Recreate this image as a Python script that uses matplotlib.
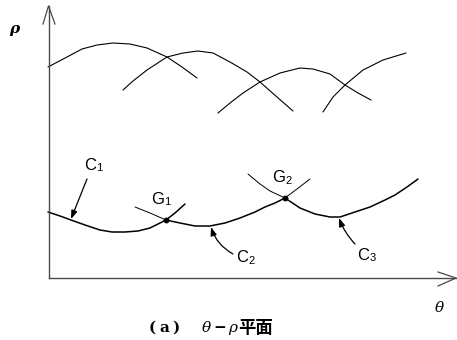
import numpy as np
from matplotlib import pyplot as plt

# curve points in picture units (x right, y down)
curve_a = [(48, 67), (67, 57), (82, 49), (97, 45), (113, 43), (130, 44), (147, 48),
           (167, 57), (182, 67), (197, 78)]
curve_b = [(123, 90), (133, 81), (147, 70), (167, 57), (183, 53), (198, 51), (213, 53),
           (230, 62), (247, 72), (260, 82), (277, 97), (293, 111)]
curve_c = [(218, 113), (230, 103), (243, 93), (260, 82), (280, 73), (300, 68), (313, 69),
           (330, 74), (345, 85), (358, 93), (371, 100)]
curve_d = [(323, 112), (333, 97), (345, 85), (363, 70), (383, 60), (406, 53)]

# lower envelope pieces (thick) and crossing stubs (thin)
c1_main = [(48, 212), (60, 216), (71, 220), (85, 225), (100, 230), (112, 232), (125, 232),
           (138, 231), (150, 228), (158, 224), (166, 220), (175, 213), (185, 204)]
c2_in = [(135, 207), (150, 213), (166, 220)]
c2_main = [(166, 220), (180, 223), (195, 226), (210, 226), (225, 223), (240, 218),
           (255, 212), (265, 207), (275, 203), (285, 198)]
c2_out = [(285, 198), (297, 189), (310, 179)]
c3_in = [(248, 174), (260, 184), (270, 191), (285, 198)]
c3_main = [(285, 198), (300, 208), (315, 214), (330, 217), (340, 217), (355, 212),
           (370, 207), (385, 200), (395, 195), (407, 187), (418, 179)]

g_pts = [(166, 220), (285, 198)]

fig = plt.figure(figsize=(4.57, 3.4), dpi=100)
ax = fig.add_axes([0, 0, 1, 1])
ax.set_xlim(0, 457)
ax.set_ylim(340, 0)
ax.axis('off')

def draw(pts, lw):
    p = np.array(pts)
    ax.plot(p[:, 0], p[:, 1], color='black', lw=lw, solid_capstyle='round',
            solid_joinstyle='round')

for c in (curve_a, curve_b, curve_c, curve_d):
    draw(c, 0.8)
draw(c1_main, 1.1)
draw(c2_main, 1.1)
draw(c3_main, 1.1)
for c in (c2_in, c2_out, c3_in):
    draw(c, 0.7)

for x, y in g_pts:
    ax.plot(x, y, 'o', color='black', ms=3.2)

# axes with open arrow heads
ax_col = '#4a4a4a'
ax.plot([48.5, 48.5], [278, 6], color=ax_col, lw=1.0)
ax.plot([43, 48.5, 55], [24, 6, 24], color=ax_col, lw=0.9)
ax.plot([48.5, 456], [278, 278], color=ax_col, lw=1.0)
ax.plot([438, 456, 438], [272, 278, 286], color=ax_col, lw=0.9)

ax.text(14, 29, 'ρ', fontsize=11, style='italic', fontweight='bold',
        family='DejaVu Serif', ha='center', va='center')
ax.text(439, 308, 'θ', fontsize=11, style='italic', family='DejaVu Serif',
        ha='center', va='center')

def label(x, y, letter, sub):
    ax.text(x, y, letter, fontsize=12, family='Liberation Sans', ha='right', va='center')
    ax.text(x + 0.5, y + 3, sub, fontsize=8, family='Liberation Sans',
            ha='left', va='center')

label(96, 165, 'C', '1')
label(248, 258, 'C', '2')
label(369, 255, 'C', '3')
label(164, 199, 'G', '1')
label(285, 178, 'G', '2')

arrow = dict(arrowstyle='-|>,head_length=0.5,head_width=0.18', color='black', lw=0.9,
             shrinkA=0, shrinkB=0)
ax.annotate('', xy=(71, 219), xytext=(87, 179), arrowprops=arrow)
ax.annotate('', xy=(211, 227), xytext=(233, 254),
            arrowprops=dict(arrow, connectionstyle='arc3,rad=-0.2'))
ax.annotate('', xy=(339, 218), xytext=(355, 244),
            arrowprops=dict(arrow, connectionstyle='arc3,rad=-0.1'))

# caption, set piece by piece
cap_y = 328
for x, s in [(152, '('), (164, 'a'), (176, ')')]:
    ax.text(x, cap_y, s, fontsize=11, fontweight='bold', family='DejaVu Serif',
            ha='center', va='center')
ax.text(206, cap_y, 'θ', fontsize=11, style='italic', family='DejaVu Serif',
        ha='center', va='center')
ax.text(220, cap_y, '−', fontsize=11, fontweight='bold', family='DejaVu Sans',
        ha='center', va='center')
ax.text(233, cap_y, 'ρ', fontsize=11, style='italic', family='DejaVu Serif',
        ha='center', va='center')
ax.text(256, cap_y, '平面', fontsize=12.5, fontweight='bold',
        family='Noto Sans CJK JP', ha='center', va='center')

fig.savefig('out.png', dpi=100)
